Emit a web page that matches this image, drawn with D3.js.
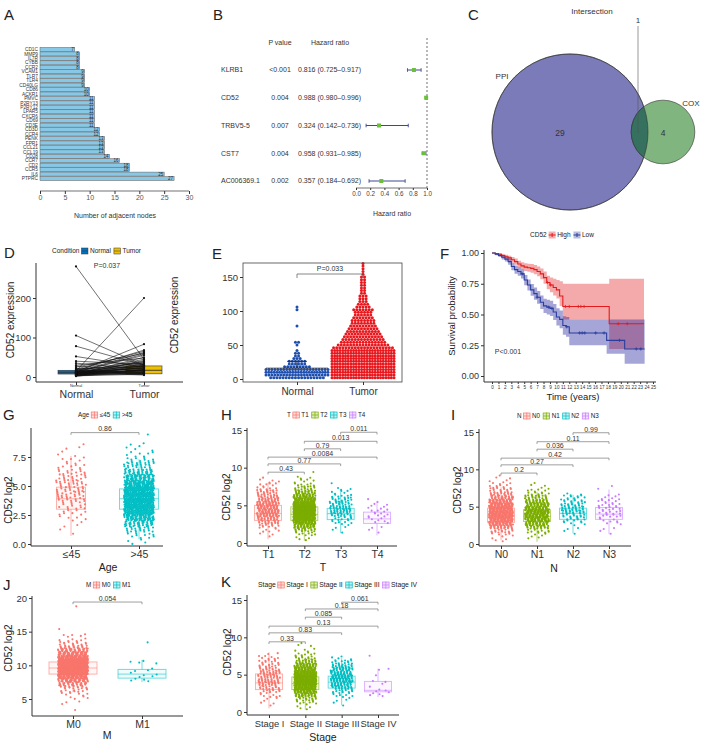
<!DOCTYPE html>
<html><head><meta charset="utf-8">
<script src="https://cdn.jsdelivr.net/npm/d3@7"></script>
<style>body{margin:0;background:#fff}svg{font-family:"Liberation Sans",Arial,sans-serif}</style>
</head><body>
<svg id="c" width="701" height="744"></svg>
<script>
// ===================== DATA =====================
// Panel A
const aGenes = ["CD1C","MMP9","IL7R","CYBB","CCR2","VCAM1","TLR7","TLR4","CD40LG","CD86","ACKR1","PMVC","P2RY13","P2RY12","LPAR5","CXCR6","CD69","CD3E","CD3D","CCR4","PENK","FPR1","CCL21","CCL19","CD28","CCR7","CD2","CCR5","IL6","PTPRC"];
const aDegree = [7,8,8,8,8,9,9,9,9,10,10,11,11,11,11,11,11,11,12,12,13,13,13,13,14,16,18,18,25,27];
const aTicks = [0,5,10,15,20,25,30];
// Panel B
const bGenes = ["KLRB1","CD52","TRBV5-5","CST7","AC006369.1"];
const bP = ["<0.001","0.004","0.007","0.004","0.002"];
const bHR = [0.816,0.988,0.324,0.958,0.357];
const bLo = [0.725,0.980,0.142,0.931,0.184];
const bHi = [0.917,0.996,0.736,0.985,0.692];
const bTicks = [0,0.2,0.4,0.6,0.8,1.0];
// Panel C
const vennNames = ["PPI","COX"];
const vennSizes = [30,5];
const vennOverlap = 1;
// Panel D (paired)
const dNormal = [280,105,78,52,40,35,30,28,25,22,20,18,16,15,14,13,12,12,11,10,10,9,9,8,8,7,7,6,6,5,5,4,4,3,3,2,12,10,15,8,20,6,9,11,14,5,7,18,3,13];
const dTumor  = [45,30,30,25,32,20,48,15,60,10,65,8,68,200,12,83,55,22,30,5,45,38,18,28,14,50,9,26,35,20,16,25,12,30,7,18,58,22,10,40,27,33,15,24,6,19,42,36,11,62];
const dBoxStats = [[7.5,12,17],[8,17,28]];
const dTicks = [0,100,200];
// Panel E (counts per 4-unit bin starting at 0)
const eCats = ["Normal","Tumor"];
const eNormalCounts = [18,22,24,22,9,6,6,3,2,2,1,0,1,2,0,0,0,0,0,1,0,0,0,0,0,1,1];
const eTumorCounts  = [24,24,24,24,24,24,24,24,24,24,24,20,17,15,14,13,12,11,10,9,8,8,7,6,6,7,5,4,3,3,3,2,2,2,2,2,2,2,1,1,1,1,1];
const eNormalSummary = [16,26];
const eTicks = [0,50,100,150];
// Panel F (KM)
const fHighT = [0,0.5,1,1.5,2,2.5,3,3.5,4,4.5,5,5.5,6,6.5,7,7.5,8,8.5,9,9.5,10,10.5,11,18.2,23.6];
const fHighS = [1,0.995,0.99,0.98,0.97,0.96,0.945,0.93,0.91,0.895,0.885,0.88,0.875,0.865,0.85,0.83,0.80,0.76,0.74,0.72,0.70,0.65,0.565,0.425,0.425];
const fHighL = [1,0.99,0.98,0.968,0.955,0.94,0.922,0.905,0.882,0.865,0.853,0.847,0.84,0.828,0.81,0.787,0.75,0.705,0.68,0.655,0.63,0.57,0.46,0.22,0.22];
const fHighU = [1,1,1,0.992,0.985,0.978,0.967,0.955,0.938,0.925,0.917,0.913,0.91,0.902,0.89,0.873,0.85,0.815,0.80,0.79,0.78,0.77,0.75,0.79,0.79];
const fLowT = [0,0.5,1,1.5,2,2.5,3,3.5,4,4.5,5,5.5,6,6.5,7,7.5,8,8.5,9,9.5,10,10.5,11,11.5,12,17.8,20.6,23.7];
const fLowS = [1,0.99,0.98,0.965,0.95,0.93,0.89,0.865,0.85,0.83,0.78,0.74,0.70,0.67,0.64,0.60,0.57,0.56,0.55,0.52,0.48,0.46,0.41,0.40,0.35,0.29,0.22,0.22];
const fLowL = [1,0.982,0.968,0.948,0.93,0.905,0.86,0.832,0.815,0.792,0.738,0.695,0.652,0.62,0.588,0.545,0.512,0.5,0.488,0.455,0.41,0.388,0.335,0.32,0.25,0.18,0.10,0.10];
const fLowU = [1,0.998,0.992,0.982,0.97,0.955,0.92,0.898,0.885,0.868,0.822,0.785,0.748,0.72,0.692,0.655,0.628,0.62,0.612,0.585,0.55,0.532,0.485,0.48,0.46,0.46,0.46,0.46];
const fHighCensor = [8.6,9.1,11.4,12.0,13.4,13.8,14.3,19.6,21.0];
const fLowCensor = [4.7,7.0,8.8,9.3,11.6,13.6,14.0,14.4,16.1,17.4,19.8,22.4,23.1];
const fYTicks = [0,0.25,0.5,0.75,1];
const fXTicks = d3.range(0,26);
// Panel G (counts per 0.5 bin starting at 0)
const gCats = ["≤45",">45"];
const gCounts = [
  [0,1,1,3,5,8,11,14,17,18,18,15,12,8,5,3,2,1],
  [4,10,20,38,62,88,105,110,105,92,75,55,36,22,13,7,4,2,1]
];
const gStats = [[0.7,3.0,3.9,4.9,7.6],[0.4,3.0,3.9,4.75,7.3]];
// Panel H
const hCats = ["T1","T2","T3","T4"];
const hCounts = [
  [0,1,2,5,10,18,25,32,36,35,32,26,20,14,9,6,4,1],
  [1,3,8,18,35,55,75,88,92,88,75,55,38,24,14,8,5,3,1],
  [0,0,1,1,3,6,10,16,20,20,17,12,8,5,3,1],
  [0,0,1,1,2,3,4,6,5,4,3,1]
];
const hStats = [[0.5,3.0,3.9,5.0,8.0],[0.3,3.0,3.8,4.8,7.5],[1.3,3.1,3.9,4.6,6.8],[1.0,2.6,3.2,4.1,5.6]];
const hPairs = [[0,1],[0,2],[0,3],[1,2],[1,3],[2,3]];
const hP = ["0.43","0.77","0.0084","0.79","0.013","0.011"];
const hPY = [9.4,10.5,11.4,12.5,13.5,14.7];
// Panel I
const iCats = ["N0","N1","N2","N3"];
const iCounts = [
  [1,3,6,14,28,45,58,66,68,64,55,42,30,20,12,8,5,3,1],
  [0,2,4,10,22,36,46,52,54,48,38,28,18,10,6,3,1],
  [0,0,1,1,2,5,9,13,17,19,16,12,8,3],
  [0,0,1,1,2,3,5,7,9,9,8,6,4,2,1,1]
];
const iStats = [[0.5,2.9,3.8,4.8,7.6],[0.3,3.0,3.7,4.6,7.0],[1.4,3.3,4.1,4.8,6.6],[1.3,3.3,4.0,4.9,7.3]];
const iP = ["0.2","0.27","0.42","0.036","0.11","0.99"];
const iPY = [9.5,10.6,11.5,12.7,13.7,14.9];
// Panel J (bins of 0.5 starting at 3)
const jCats = ["M0","M1"];
const jCounts = [
  [1,0,1,2,4,6,10,16,28,45,65,88,105,110,105,90,70,50,34,20,12,6,3,2,1,0,0,0,0,0,0,1],
  [0,0,0,0,0,0,0,0,0,3,3,3,2,1,2,2,0,0,0,0,1]
];
const jStats = [[6.0,8.7,9.6,10.5,13.2],[7.5,8.1,8.7,9.4,10.8]];
// Panel K
const kCats = ["Stage I","Stage II","Stage III","Stage IV"];
const kCounts = [
  [0,1,2,3,6,10,14,18,20,20,18,15,12,9,6,3],
  [1,3,7,15,30,48,65,78,82,78,66,50,35,22,12,7,4,2,1],
  [0,1,1,3,6,12,20,28,34,35,32,26,18,10,4],
  [0,0,0,0,3,4,2,1,2,1,0,2,0,0,0,1]
];
const kStats = [[0.5,3.0,3.9,5.1,8.0],[0.3,3.0,3.8,4.7,7.3],[0.9,3.2,4.0,4.8,7.2],[2.0,2.7,2.9,4.1,5.8]];
const kP = ["0.33","0.83","0.13","0.085","0.18","0.061"];
const kPY = [9.4,10.6,11.5,12.7,13.8,14.7];

const HUE2 = ["#F8766D","#00BFC4"];
const HUE4 = ["#F8766D","#7CAE00","#00BFC4","#C77CFF"];

// ===================== DRAW =====================
const svg = d3.select('#c');
const INK = '#333';
function txt(g,x,y,s,fs,anchor,fill){return g.append('text').attr('x',x).attr('y',y).attr('dy','0.35em').attr('font-size',fs).attr('text-anchor',anchor||'start').attr('fill',fill||INK).text(s);}
function letter(t,x,y){svg.append('text').attr('x',x).attr('y',y).attr('font-size',15).attr('fill','#222').text(t);}
function styleAxis(a,fs,col){a.selectAll('text').attr('font-size',fs).attr('fill',col||INK).attr('font-family','"Liberation Sans",Arial,sans-serif');a.selectAll('line').attr('stroke',INK);a.select('.domain').remove();}

// ---------- A ----------
letter('A',4,20);
{
  const g = svg.append('g');
  const x = d3.scaleLinear().domain([0,30]).range([40,189]);
  const y = d3.scaleBand().domain(aGenes).range([47,181]).padding(0.1);
  g.selectAll('rect').data(aGenes).join('rect').attr('x',x(0)).attr('y',d=>y(d)).attr('height',y.bandwidth()).attr('width',(d,i)=>x(aDegree[i])-x(0)).attr('fill','#86c8e6').attr('stroke','#6a5a55').attr('stroke-width',0.5);
  g.selectAll('.v').data(aGenes).join('text').attr('x',(d,i)=>x(aDegree[i])-1).attr('y',d=>y(d)+y.bandwidth()/2).attr('dy','0.35em').attr('text-anchor','end').attr('font-size',4.5).attr('fill','#1a2a44').text((d,i)=>aDegree[i]);
  g.selectAll('.l').data(aGenes).join('text').attr('x',38).attr('y',d=>y(d)+y.bandwidth()/2).attr('dy','0.35em').attr('text-anchor','end').attr('font-size',4.8).attr('fill','#333').text(d=>d);
  const ax = g.append('g').attr('transform','translate(0,191)').call(d3.axisBottom(x).tickValues(aTicks).tickSize(3).tickPadding(1.5));
  styleAxis(ax,7,'#555');
  g.append('line').attr('x1',x(0)).attr('x2',x(30)).attr('y1',191).attr('y2',191).attr('stroke',INK).attr('stroke-width',0.7);
  txt(g,115,216,'Number of adjacent nodes',7,'middle');
}

// ---------- B ----------
letter('B',213,20);
{
  const g = svg.append('g');
  const y = d3.scalePoint().domain(bGenes).range([70,181]);
  const x = d3.scaleLinear().domain([0,1]).range([356,427]);
  txt(g,280,43,'P value',7,'middle');
  txt(g,330,43,'Hazard ratio',7,'middle');
  bGenes.forEach((gn,i)=>{
    const yy=y(gn);
    txt(g,221,yy,gn,7,'start');
    txt(g,280,yy,bP[i],7,'middle');
    txt(g,298,yy,`${bHR[i].toFixed(3)} (${bLo[i].toFixed(3)}–${bHi[i].toFixed(3)})`,7,'start');
  });
  g.append('line').attr('x1',x(1)).attr('x2',x(1)).attr('y1',38).attr('y2',188).attr('stroke',INK).attr('stroke-width',0.7).attr('stroke-dasharray','2,2');
  bGenes.forEach((gn,i)=>{
    const yy=y(gn);
    g.append('line').attr('x1',x(bLo[i])).attr('x2',x(bHi[i])).attr('y1',yy).attr('y2',yy).attr('stroke','#3d4690').attr('stroke-width',1);
    [bLo[i],bHi[i]].forEach(v=>g.append('line').attr('x1',x(v)).attr('x2',x(v)).attr('y1',yy-1.8).attr('y2',yy+1.8).attr('stroke','#3d4690').attr('stroke-width',0.9));
    g.append('rect').attr('x',x(bHR[i])-2).attr('y',yy-2).attr('width',4).attr('height',4).attr('fill','#6abf3c');
  });
  const ax = g.append('g').attr('transform','translate(0,188)').call(d3.axisBottom(x).tickValues(bTicks).tickFormat(d3.format('.1f')).tickSize(2).tickPadding(1.5));
  styleAxis(ax,6.3,'#444');
  g.append('line').attr('x1',x(0)).attr('x2',x(1)).attr('y1',188).attr('y2',188).attr('stroke',INK).attr('stroke-width',0.7);
  txt(g,392,214,'Hazard ratio',7,'middle');
}

// ---------- C ----------
letter('C',468,20);
{
  const g = svg.append('g');
  const r = d3.scaleSqrt().domain([0,30]).range([0,78]);
  const centers = [[570,132],[663,132]];
  const cols = ['#7b7bba','#80b580'];
  const defs = svg.append('defs');
  defs.append('clipPath').attr('id','clipBig').append('circle').attr('cx',centers[0][0]).attr('cy',centers[0][1]).attr('r',r(vennSizes[0]));
  vennSizes.forEach((s,i)=>g.append('circle').attr('cx',centers[i][0]).attr('cy',centers[i][1]).attr('r',r(s)).attr('fill',cols[i]).attr('stroke','#333').attr('stroke-width',0.6));
  g.append('circle').attr('clip-path','url(#clipBig)').attr('cx',centers[1][0]).attr('cy',centers[1][1]).attr('r',r(vennSizes[1])).attr('fill','#36705e').attr('stroke','#333').attr('stroke-width',0.6);
  g.append('circle').attr('cx',centers[0][0]).attr('cy',centers[0][1]).attr('r',r(vennSizes[0])).attr('fill','none').attr('stroke','#333').attr('stroke-width',0.6);
  txt(g,560,133,String(vennSizes[0]-vennOverlap),8.5,'middle');
  txt(g,663,133,String(vennSizes[1]-vennOverlap),8.5,'middle');
  txt(g,502,76,vennNames[0],8,'middle');
  txt(g,691,103,vennNames[1],8,'middle');
  txt(g,592,11,'Intersection',8,'middle');
  txt(g,638,20,String(vennOverlap),8,'middle');
  g.append('line').attr('x1',638).attr('x2',638).attr('y1',26).attr('y2',133).attr('stroke','#555').attr('stroke-width',0.6);
}

// ---------- legends ----------
function legend(x,y,title,labels,colors,fs,glyph){
  const g = svg.append('g');
  let cx = x;
  const t = txt(g,cx,y,title,fs,'start','#222');
  cx += t.node().getComputedTextLength()+2;
  labels.forEach((lb,i)=>{
    glyph(g,cx,y,colors[i]); cx += 8.5;
    const tt = txt(g,cx,y,lb,fs,'start','#222');
    cx += tt.node().getComputedTextLength()+3;
  });
}
function boxGlyph(g,x,y,c){
  g.append('rect').attr('x',x).attr('y',y-3).attr('width',6.5).attr('height',6).attr('fill',c).attr('fill-opacity',0.25).attr('stroke',c).attr('stroke-width',0.7);
  g.append('line').attr('x1',x+3.25).attr('x2',x+3.25).attr('y1',y-3.5).attr('y2',y+3.5).attr('stroke',c).attr('stroke-width',0.7);
  g.append('line').attr('x1',x).attr('x2',x+6.5).attr('y1',y).attr('y2',y).attr('stroke',c).attr('stroke-width',0.7);
}
function solidGlyph(g,x,y,c){
  g.append('rect').attr('x',x).attr('y',y-3).attr('width',6.5).attr('height',6).attr('fill',c).attr('stroke','#333').attr('stroke-width',0.5);
  g.append('line').attr('x1',x).attr('x2',x+6.5).attr('y1',y).attr('y2',y).attr('stroke','#333').attr('stroke-width',0.5);
}
function kmGlyph(g,x,y,c){
  g.append('rect').attr('x',x).attr('y',y-3.5).attr('width',7).attr('height',7).attr('fill',c).attr('fill-opacity',0.35);
  g.append('line').attr('x1',x).attr('x2',x+7).attr('y1',y).attr('y2',y).attr('stroke',c).attr('stroke-width',1);
  g.append('line').attr('x1',x+3.5).attr('x2',x+3.5).attr('y1',y-2).attr('y2',y+2).attr('stroke',c).attr('stroke-width',1);
}

// ---------- D ----------
letter('D',4,258);
{
  const g = svg.append('g');
  const x = d3.scalePoint().domain(["Normal","Tumor"]).range([76,144]);
  const y = d3.scaleLinear().domain([0,200]).range([377,298]);
  const boxCols = ['#0073C2','#EFC000'];
  ["Normal","Tumor"].forEach((c,i)=>{
    const s = dBoxStats[i], cx=x(c);
    g.append('rect').attr('x',cx-18).attr('width',36).attr('y',y(s[2])).attr('height',y(s[0])-y(s[2])).attr('fill',boxCols[i]).attr('stroke','#333').attr('stroke-width',0.6);
    g.append('line').attr('x1',cx-18).attr('x2',cx+18).attr('y1',y(s[1])).attr('y2',y(s[1])).attr('stroke','#333').attr('stroke-width',0.9);
  });
  dNormal.forEach((v,i)=>{
    g.append('line').attr('x1',x('Normal')).attr('y1',y(v)).attr('x2',x('Tumor')).attr('y2',y(dTumor[i])).attr('stroke','#111').attr('stroke-width',0.6);
  });
  g.selectAll('.pn').data(dNormal).join('circle').attr('cx',x('Normal')).attr('cy',d=>y(d)).attr('r',1.1).attr('fill','#111');
  g.selectAll('.pt').data(dTumor).join('circle').attr('cx',x('Tumor')).attr('cy',d=>y(d)).attr('r',1.1).attr('fill','#111');
  g.append('line').attr('x1',36).attr('x2',36).attr('y1',263).attr('y2',382).attr('stroke',INK);
  g.append('line').attr('x1',36).attr('x2',183).attr('y1',382).attr('y2',382).attr('stroke',INK);
  const ya = g.append('g').attr('transform','translate(36,0)').call(d3.axisLeft(y).tickValues(dTicks).tickSize(3).tickPadding(2));
  styleAxis(ya,9.5,'#333');
  const xa = g.append('g').attr('transform','translate(0,382)').call(d3.axisBottom(x).tickSize(3).tickPadding(6));
  styleAxis(xa,10.5,'#333');
  ["Normal","Tumor"].forEach(c=>txt(g,x(c),386,c,3.8,'middle','#333'));
  txt(g,107,266,'P=0.037',7,'middle');
  g.append('text').attr('transform','translate(10,320) rotate(-90)').attr('text-anchor','middle').attr('dy','0.35em').attr('font-size',10).attr('fill','#222').text('CD52 expression');
  legend(52,251,'Condition',["Normal","Tumor"],boxCols,6.5,solidGlyph);
}

// ---------- E ----------
letter('E',212,259);
{
  const g = svg.append('g');
  const x = d3.scalePoint().domain(eCats).range([297,363]);
  const y = d3.scaleLinear().domain([0,150]).range([379,277]);
  const cols = ['#1f4fae','#e8171d'];
  const binW = 4, step = 3.1, full = 62;
  [eNormalCounts,eTumorCounts].forEach((arr,gi)=>{
    const pts=[];
    arr.forEach((n,k)=>{
      const sp = n>1 ? Math.min(step,full/(n-1)) : 0;
      for(let j=0;j<n;j++) pts.push({v:(k+0.5)*binW, dx:(j-(n-1)/2)*sp});
    });
    g.append('g').selectAll('circle').data(pts).join('circle').attr('cx',d=>x(eCats[gi])+d.dx).attr('cy',d=>y(d.v)).attr('r',1.5).attr('fill',cols[gi]);
  });
  const cxN = x('Normal');
  g.append('line').attr('x1',cxN-31).attr('x2',cxN+31).attr('y1',y(eNormalSummary[0])).attr('y2',y(eNormalSummary[0])).attr('stroke','#222').attr('stroke-width',0.7);
  g.append('line').attr('x1',cxN-10).attr('x2',cxN+10).attr('y1',y(eNormalSummary[1])).attr('y2',y(eNormalSummary[1])).attr('stroke','#222').attr('stroke-width',0.7);
  g.append('line').attr('x1',cxN).attr('x2',cxN).attr('y1',y(eNormalSummary[0])).attr('y2',y(eNormalSummary[1])).attr('stroke','#222').attr('stroke-width',0.7);
  g.append('rect').attr('x',243).attr('y',263).attr('width',159).attr('height',119).attr('fill','none').attr('stroke','#444').attr('stroke-width',0.8);
  const ya = g.append('g').attr('transform','translate(243,0)').call(d3.axisLeft(y).tickValues(eTicks).tickSize(3).tickPadding(2));
  styleAxis(ya,9.5,'#333');
  const xa = g.append('g').attr('transform','translate(0,382)').call(d3.axisBottom(x).tickSize(3).tickPadding(3));
  styleAxis(xa,10,'#333');
  g.append('path').attr('d',`M${x('Normal')},278V274H${x('Tumor')}V278`).attr('fill','none').attr('stroke','#555').attr('stroke-width',0.7);
  txt(g,330,269,'P=0.033',7,'middle','#333');
  g.append('text').attr('transform','translate(174,315) rotate(-90)').attr('text-anchor','middle').attr('dy','0.35em').attr('font-size',10).attr('fill','#222').text('CD52 expression');
}

// ---------- F ----------
letter('F',440,259);
{
  const g = svg.append('g');
  const x = d3.scaleLinear().domain([0,25]).range([492,653]);
  const y = d3.scaleLinear().domain([0,1]).range([376,253]);
  const red='#E41A1C', blue='#2A3F9D';
  function band(T,L,U,c){
    const d = T.map((t,i)=>({t,l:L[i],u:U[i]}));
    g.append('path').attr('d',d3.area().curve(d3.curveStepAfter).x(p=>x(p.t)).y0(p=>y(p.l)).y1(p=>y(p.u))(d)).attr('fill',c).attr('fill-opacity',0.4);
  }
  band(fHighT,fHighL,fHighU,'#E32A2A');
  band(fLowT,fLowL,fLowU,'#1E1E9B');
  function curve(T,S,c,cens){
    const d = T.map((t,i)=>({t,s:S[i]}));
    g.append('path').attr('d',d3.line().curve(d3.curveStepAfter).x(p=>x(p.t)).y(p=>y(p.s))(d)).attr('fill','none').attr('stroke',c).attr('stroke-width',1.1);
    const sAt = t=>{let s=1;T.forEach((tt,i)=>{if(tt<=t)s=S[i];});return s;};
    cens.forEach(t=>{
      const cx=x(t), cy=y(sAt(t));
      g.append('path').attr('d',`M${cx-1.6},${cy}H${cx+1.6}M${cx},${cy-1.6}V${cy+1.6}`).attr('stroke',c).attr('stroke-width',0.8);
    });
  }
  curve(fHighT,fHighS,red,fHighCensor);
  curve(fLowT,fLowS,blue,fLowCensor);
  g.append('line').attr('x1',484).attr('x2',484).attr('y1',250).attr('y2',382).attr('stroke',INK);
  g.append('line').attr('x1',484).attr('x2',656).attr('y1',382).attr('y2',382).attr('stroke',INK);
  const ya = g.append('g').attr('transform','translate(484,0)').call(d3.axisLeft(y).tickValues(fYTicks).tickFormat(d3.format('.2f')).tickSize(3).tickPadding(2));
  styleAxis(ya,9,'#333');
  const xa = g.append('g').attr('transform','translate(0,382)').call(d3.axisBottom(x).tickValues(fXTicks).tickSize(2).tickPadding(1.5));
  styleAxis(xa,4.6,'#333');
  txt(g,573,397,'Time (years)',9.5,'middle','#222');
  g.append('text').attr('transform','translate(452,316) rotate(-90)').attr('text-anchor','middle').attr('dy','0.35em').attr('font-size',9.5).attr('fill','#222').text('Survival probability');
  txt(g,508,352,'P<0.001',7,'middle','#333');
  legend(530,235,'CD52',["High","Low"],[red,blue],6.5,kmGlyph);
}

// ---------- Box panels ----------
function boxPanel(c){
  const g = svg.append('g');
  const x = d3.scalePoint().domain(c.cats).range(c.xr);
  const y = d3.scaleLinear().domain(c.yd).range(c.yr);
  c.counts.forEach((arr,gi)=>{
    const pts=[]; let idx=0;
    arr.forEach((n,k)=>{for(let j=0;j<n;j++){idx++;const fy=(idx*0.7548776662)%1, fx=(idx*0.5698402910)%1;pts.push({v:c.b0+c.bw*(k+fy),dx:(fx-0.5)*2*c.jit});}});
    g.append('g').selectAll('circle').data(pts).join('circle').attr('cx',d=>x(c.cats[gi])+d.dx).attr('cy',d=>y(d.v)).attr('r',1.05).attr('fill',c.colors[gi]);
  });
  c.stats.forEach((s,gi)=>{
    const cx=x(c.cats[gi]), hw=Array.isArray(c.bh)?c.bh[gi]:c.bh, col=c.colors[gi];
    const bg = g.append('g').attr('stroke',col).attr('stroke-opacity',0.6).attr('fill','none').attr('stroke-width',0.9);
    bg.append('rect').attr('x',cx-hw).attr('width',2*hw).attr('y',y(s[3])).attr('height',y(s[1])-y(s[3])).attr('fill',col).attr('fill-opacity',0.06);
    bg.append('line').attr('x1',cx-hw).attr('x2',cx+hw).attr('y1',y(s[2])).attr('y2',y(s[2]));
    bg.append('line').attr('x1',cx).attr('x2',cx).attr('y1',y(s[3])).attr('y2',y(s[4]));
    bg.append('line').attr('x1',cx).attr('x2',cx).attr('y1',y(s[1])).attr('y2',y(s[0]));
  });
  g.append('line').attr('x1',c.ax).attr('x2',c.ax).attr('y1',c.atop).attr('y2',c.ab).attr('stroke',INK);
  g.append('line').attr('x1',c.ax).attr('x2',c.aright).attr('y1',c.ab).attr('y2',c.ab).attr('stroke',INK);
  const ya = g.append('g').attr('transform',`translate(${c.ax},0)`).call(d3.axisLeft(y).tickValues(c.ticks).tickFormat(c.fmt||d3.format('d')).tickSize(3).tickPadding(2));
  styleAxis(ya,9.5,'#333');
  const xa = g.append('g').attr('transform',`translate(0,${c.ab})`).call(d3.axisBottom(x).tickSize(3).tickPadding(2));
  styleAxis(xa,c.xfs||10.5,'#333');
  c.pairs.forEach((p,i)=>{
    const yy=y(c.py[i]), x1=x(c.cats[p[0]]), x2=x(c.cats[p[1]]);
    g.append('path').attr('d',`M${x1},${yy+2.2}V${yy}H${x2}V${yy+2.2}`).attr('fill','none').attr('stroke','#777').attr('stroke-width',0.7);
    g.append('text').attr('x',(x1+x2)/2).attr('y',yy-1.2).attr('text-anchor','middle').attr('font-size',7).attr('fill','#333').text(c.pl[i]);
  });
  txt(g,c.xlab[1],c.xlab[2],c.xlab[0],10.5,'middle','#222');
  g.append('text').attr('transform',`translate(${c.ylab[0]},${c.ylab[1]}) rotate(-90)`).attr('text-anchor','middle').attr('dy','0.35em').attr('font-size',10).attr('fill','#222').text('CD52 log2');
  legend(c.leg[0],c.leg[1],c.leg[2],c.cats,c.colors,c.lfs||6.3,boxGlyph);
}

letter('G',3,420);
boxPanel({cats:gCats,xr:[71,139],yd:[0,7.5],yr:[544,457],ticks:[0,2.5,5,7.5],fmt:d3.format('.1f'),counts:gCounts,b0:0,bw:0.5,jit:15,stats:gStats,bh:[14.5,19.5],colors:HUE2,
  ax:31,ab:546,atop:428,aright:163,pairs:[[0,1]],pl:["0.86"],py:[9.6],xlab:['Age',108,567],ylab:[8,500],leg:[78,415,'Age']});
letter('H',221,420);
boxPanel({cats:hCats,xr:[268,377],yd:[0,15],yr:[543,430],ticks:[0,5,10,15],counts:hCounts,b0:0,bw:0.5,jit:11,stats:hStats,bh:13.5,colors:HUE4,
  ax:247,ab:546,atop:428,aright:397,pairs:hPairs,pl:hP,py:hPY,xlab:['T',323,567],ylab:[226,497],leg:[287,415,'T']});
letter('I',451,420);
boxPanel({cats:iCats,xr:[501,609],yd:[0,15],yr:[544,432],ticks:[0,5,10,15],counts:iCounts,b0:0,bw:0.5,jit:12,stats:iStats,bh:13.5,colors:HUE4,
  ax:479,ab:546,atop:429,aright:631,pairs:hPairs,pl:iP,py:iPY,xlab:['N',554,568],ylab:[457,490],leg:[517,416,'N']});
letter('J',3,590);
boxPanel({cats:jCats,xr:[73,142],yd:[5,20],yr:[699,598],ticks:[5,10,15,20],counts:jCounts,b0:3,bw:0.5,jit:15,stats:jStats,bh:24,colors:HUE2,
  ax:32,ab:716,atop:596,aright:183,pairs:[[0,1]],pl:["0.054"],py:[19.4],xlab:['M',107,735],ylab:[8,648],leg:[86,585,'M']});
letter('K',221,587);
boxPanel({cats:kCats,xr:[269,378],yd:[0,15],yr:[712,600],ticks:[0,5,10,15],counts:kCounts,b0:0,bw:0.5,jit:11,stats:kStats,bh:13.5,colors:HUE4,xfs:9.4,lfs:6.8,
  ax:247,ab:715,atop:595,aright:399,pairs:hPairs,pl:kP,py:kPY,xlab:['Stage',323,737],ylab:[227,652],leg:[258,585,'Stage']});
</script>
</body></html>
